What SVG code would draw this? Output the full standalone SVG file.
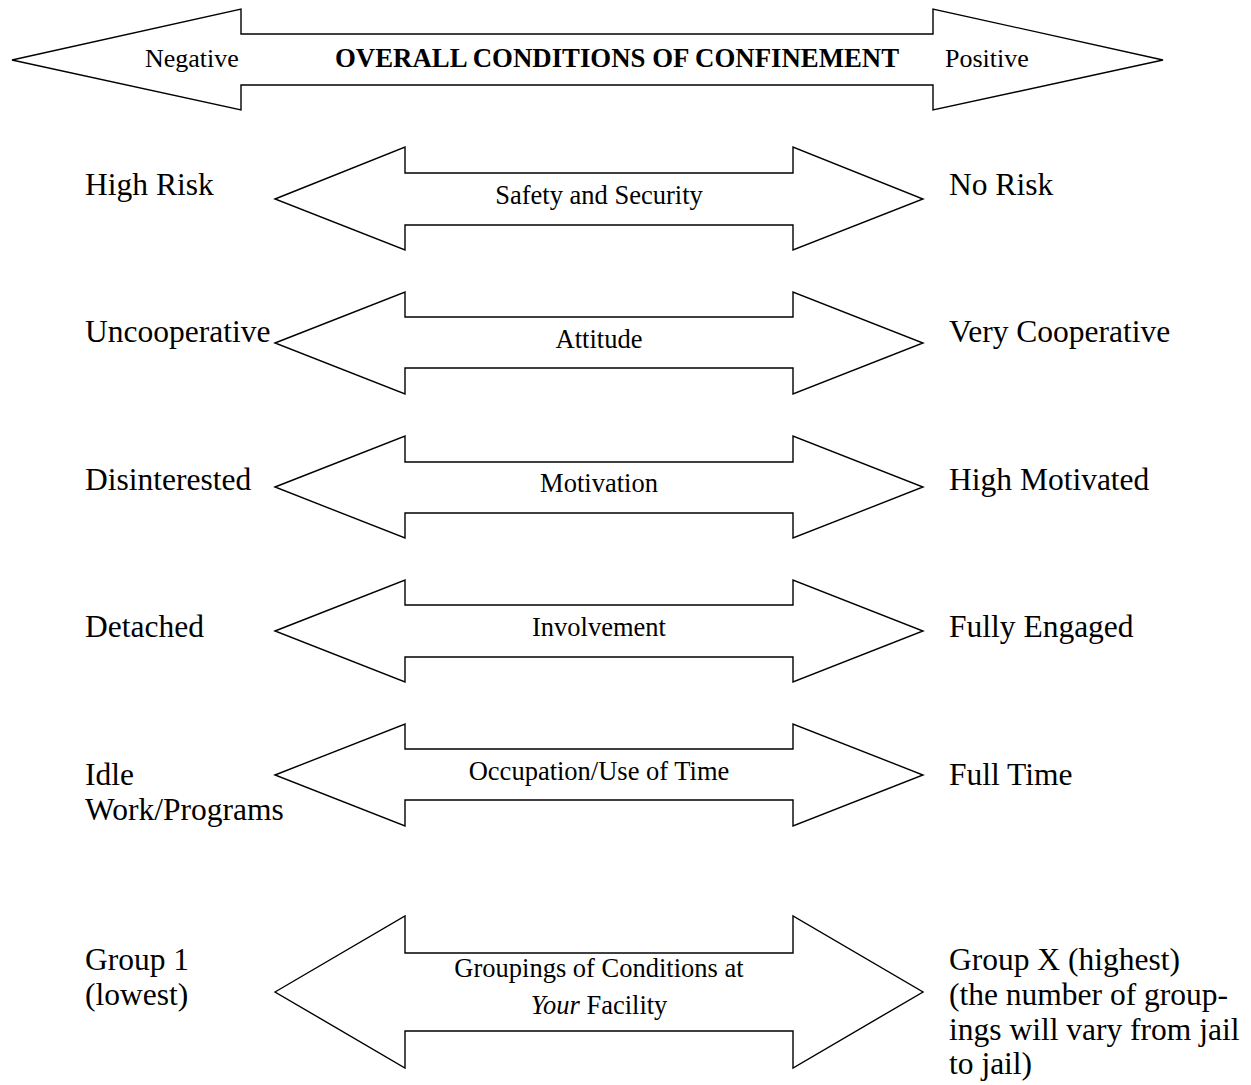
<svg xmlns="http://www.w3.org/2000/svg" width="1251" height="1085" viewBox="0 0 1251 1085">
<style>
.ar{fill:#fff;stroke:#000;stroke-width:1.4;stroke-linejoin:miter}
text{font-family:"Liberation Serif","Times New Roman",serif;fill:#000}
.lb{font-size:31.5px}
.c{font-size:26.5px;text-anchor:middle}
.t{font-size:26px}
.b{font-size:26.8px;font-weight:bold}
</style>
<rect width="1251" height="1085" fill="#fff"/>
<g id="connectors">
<polygon id="arrow-overall" class="ar" points="12,60 241,9 241,34 933,34 933,9 1163,60 933,110 933,85 241,85 241,110"/>
<polygon id="arrow-safety" class="ar" points="275,199 405,147 405,173 793,173 793,147 923,199 793,250 793,225 405,225 405,250"/>
<polygon id="arrow-attitude" class="ar" points="275,343 405,292 405,317 793,317 793,292 923,343 793,394 793,368 405,368 405,394"/>
<polygon id="arrow-motivation" class="ar" points="275,487 405,436 405,462 793,462 793,436 923,487 793,538 793,513 405,513 405,538"/>
<polygon id="arrow-involvement" class="ar" points="275,631 405,580 405,605 793,605 793,580 923,631 793,682 793,657 405,657 405,682"/>
<polygon id="arrow-occupation" class="ar" points="275,775 405,724 405,749 793,749 793,724 923,775 793,826 793,800 405,800 405,826"/>
<polygon id="arrow-groupings" class="ar" points="275,992 405,916 405,953 793,953 793,916 923,992 793,1068 793,1031 405,1031 405,1068"/>
</g>
<g id="node-overall">
<text class="t" x="145" y="67">Negative</text>
<text class="b" x="335" y="67">OVERALL CONDITIONS OF CONFINEMENT</text>
<text class="t" x="945" y="67">Positive</text>
</g>
<g id="node-safety">
<text class="lb" x="85" y="195">High Risk</text>
<text class="c" x="599" y="204">Safety and Security</text>
<text class="lb" x="949" y="195">No Risk</text>
</g>
<g id="node-attitude">
<text class="lb" x="85" y="342">Uncooperative</text>
<text class="c" x="599" y="348">Attitude</text>
<text class="lb" x="949" y="342">Very Cooperative</text>
</g>
<g id="node-motivation">
<text class="lb" x="85" y="490">Disinterested</text>
<text class="c" x="599" y="492">Motivation</text>
<text class="lb" x="949" y="490">High Motivated</text>
</g>
<g id="node-involvement">
<text class="lb" x="85" y="637">Detached</text>
<text class="c" x="599" y="636">Involvement</text>
<text class="lb" x="949" y="637">Fully Engaged</text>
</g>
<g id="node-occupation">
<text class="lb" x="85" y="785">Idle</text>
<text class="lb" x="85" y="820">Work/Programs</text>
<text class="c" x="599" y="780">Occupation/Use of Time</text>
<text class="lb" x="949" y="785">Full Time</text>
</g>
<g id="node-groupings">
<text class="lb" x="85" y="970">Group 1</text>
<text class="lb" x="85" y="1005">(lowest)</text>
<text class="c" x="599" y="977">Groupings of Conditions at</text>
<text class="c" x="599" y="1014"><tspan font-style="italic">Your</tspan> Facility</text>
<text class="lb" x="949" y="970">Group X (highest)</text>
<text class="lb" x="949" y="1005">(the number of group-</text>
<text class="lb" x="949" y="1040">ings will vary from jail</text>
<text class="lb" x="949" y="1074">to jail)</text>
</g>
</svg>
